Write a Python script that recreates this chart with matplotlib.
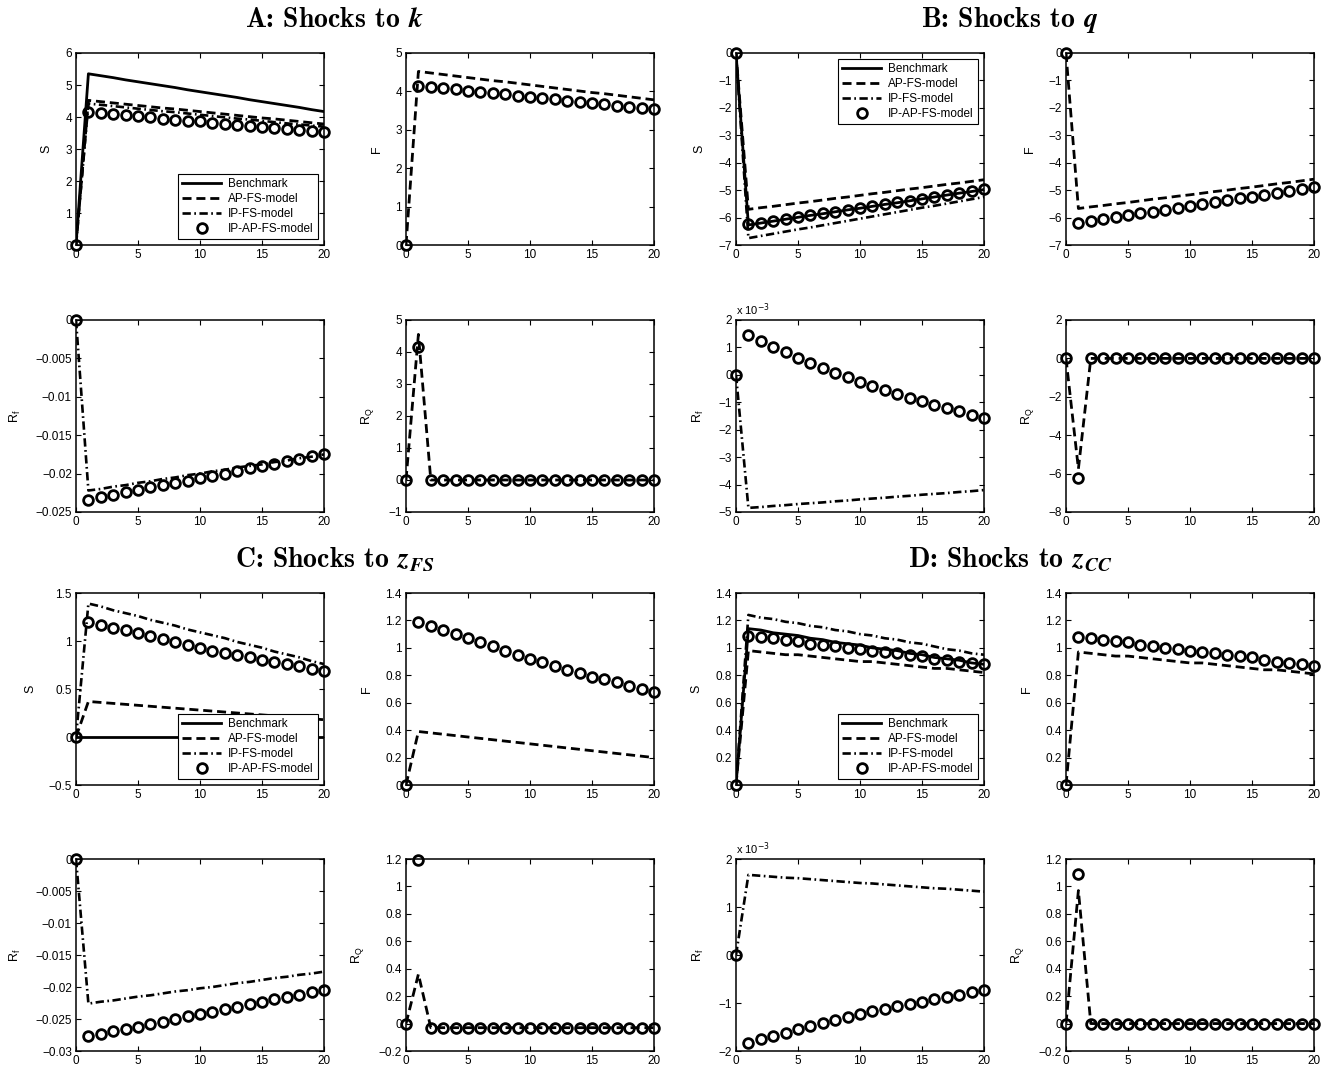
import numpy as np
import matplotlib.pyplot as plt
from matplotlib.ticker import FuncFormatter

plt.rcParams['font.family'] = ['Liberation Sans', 'DejaVu Sans']
plt.rcParams['lines.scale_dashes'] = False

t = list(range(21))

# ---------------- A: shocks to k ----------------
a_S_bench = [0, 5.35, 5.29, 5.23, 5.16, 5.10, 5.04, 4.98, 4.92, 4.85, 4.79, 4.73, 4.67, 4.61, 4.54, 4.48, 4.42, 4.36, 4.30, 4.23, 4.17]
a_S_ap = [0, 4.52, 4.48, 4.44, 4.40, 4.36, 4.32, 4.28, 4.25, 4.21, 4.17, 4.13, 4.09, 4.05, 4.01, 3.97, 3.94, 3.90, 3.86, 3.82, 3.78]
a_S_ip = [0, 4.42, 4.38, 4.34, 4.30, 4.26, 4.22, 4.18, 4.15, 4.11, 4.07, 4.03, 3.99, 3.95, 3.92, 3.88, 3.84, 3.80, 3.77, 3.73, 3.70]
a_S_ipap = [0, 4.15, 4.12, 4.08, 4.05, 4.02, 3.99, 3.95, 3.92, 3.89, 3.86, 3.82, 3.79, 3.76, 3.72, 3.69, 3.66, 3.63, 3.59, 3.56, 3.53]
a_F_ap = [0, 4.52, 4.48, 4.44, 4.40, 4.36, 4.32, 4.28, 4.25, 4.21, 4.17, 4.13, 4.09, 4.05, 4.01, 3.97, 3.94, 3.90, 3.86, 3.82, 3.78]
a_F_ipap = [0, 4.15, 4.12, 4.08, 4.05, 4.02, 3.99, 3.95, 3.92, 3.89, 3.86, 3.82, 3.79, 3.76, 3.72, 3.69, 3.66, 3.63, 3.59, 3.56, 3.53]
a_Rf_ip = [0, -0.0222, -0.0220, -0.0217, -0.0215, -0.0212, -0.0210, -0.0207, -0.0205, -0.0202, -0.0200, -0.0197, -0.0195, -0.0192, -0.0190, -0.0188, -0.0185, -0.0183, -0.0180, -0.0178, -0.0175]
a_Rf_ipap = [0, -0.0234, -0.0231, -0.0228, -0.0224, -0.0221, -0.0218, -0.0215, -0.0212, -0.0209, -0.0206, -0.0203, -0.0200, -0.0196, -0.0193, -0.0190, -0.0187, -0.0184, -0.0181, -0.0177, -0.0174]
a_RQ_ap = [0, 4.55, 0, 0, 0, 0, 0, 0, 0, 0, 0, 0, 0, 0, 0, 0, 0, 0, 0, 0, 0]
a_RQ_ipap = [0, 4.15, 0, 0, 0, 0, 0, 0, 0, 0, 0, 0, 0, 0, 0, 0, 0, 0, 0, 0, 0]

# ---------------- B: shocks to q ----------------
b_S_bench = [0, -6.27, -6.20, -6.13, -6.06, -5.99, -5.92, -5.86, -5.79, -5.72, -5.66, -5.59, -5.52, -5.46, -5.39, -5.32, -5.25, -5.18, -5.11, -5.05, -4.98]
b_S_ap = [0, -5.70, -5.64, -5.59, -5.53, -5.47, -5.42, -5.36, -5.30, -5.25, -5.19, -5.13, -5.08, -5.02, -4.96, -4.91, -4.85, -4.79, -4.74, -4.68, -4.62]
b_S_ip = [0, -6.75, -6.67, -6.59, -6.51, -6.43, -6.36, -6.28, -6.20, -6.12, -6.04, -5.96, -5.88, -5.80, -5.72, -5.64, -5.57, -5.49, -5.41, -5.33, -5.25]
b_S_ipap = [0, -6.25, -6.18, -6.12, -6.05, -5.98, -5.91, -5.85, -5.78, -5.72, -5.65, -5.58, -5.52, -5.45, -5.38, -5.31, -5.24, -5.17, -5.10, -5.04, -4.97]
b_F_ap = [0, -5.67, -5.61, -5.56, -5.50, -5.45, -5.39, -5.33, -5.28, -5.22, -5.17, -5.11, -5.05, -5.00, -4.94, -4.89, -4.83, -4.77, -4.72, -4.66, -4.60]
b_F_ipap = [0, -6.18, -6.11, -6.05, -5.98, -5.91, -5.84, -5.78, -5.71, -5.64, -5.57, -5.51, -5.44, -5.37, -5.30, -5.24, -5.17, -5.10, -5.03, -4.97, -4.90]
# R_f values for B and D are in units of 1e-3
b_Rf_ip = [0, -4.85, -4.82, -4.78, -4.75, -4.71, -4.68, -4.65, -4.61, -4.58, -4.54, -4.51, -4.48, -4.44, -4.41, -4.37, -4.34, -4.31, -4.27, -4.24, -4.20]
b_Rf_ipap = [0, 1.45, 1.23, 1.03, 0.82, 0.62, 0.43, 0.25, 0.07, -0.09, -0.25, -0.40, -0.55, -0.70, -0.83, -0.96, -1.10, -1.22, -1.33, -1.45, -1.57]
b_RQ_ap = [0, -5.75, 0, 0, 0, 0, 0, 0, 0, 0, 0, 0, 0, 0, 0, 0, 0, 0, 0, 0, 0]
b_RQ_ipap = [0, -6.25, 0, 0, 0, 0, 0, 0, 0, 0, 0, 0, 0, 0, 0, 0, 0, 0, 0, 0, 0]

# ---------------- C: shocks to z_FS ----------------
c_S_bench = [0] * 21
c_S_ap = [0, 0.37, 0.36, 0.35, 0.34, 0.33, 0.32, 0.31, 0.30, 0.29, 0.28, 0.27, 0.26, 0.25, 0.24, 0.23, 0.22, 0.21, 0.20, 0.19, 0.18]
c_S_ip = [0, 1.39, 1.36, 1.32, 1.29, 1.26, 1.22, 1.19, 1.16, 1.12, 1.09, 1.06, 1.03, 0.99, 0.96, 0.93, 0.89, 0.86, 0.83, 0.79, 0.76]
c_S_ipap = [0, 1.20, 1.17, 1.14, 1.11, 1.08, 1.05, 1.02, 0.99, 0.96, 0.93, 0.90, 0.88, 0.85, 0.83, 0.80, 0.78, 0.76, 0.74, 0.71, 0.69]
c_F_ap = [0, 0.39, 0.38, 0.37, 0.36, 0.35, 0.34, 0.33, 0.32, 0.31, 0.30, 0.29, 0.28, 0.27, 0.26, 0.25, 0.24, 0.23, 0.22, 0.21, 0.20]
c_F_ipap = [0, 1.19, 1.16, 1.13, 1.10, 1.07, 1.04, 1.01, 0.98, 0.95, 0.92, 0.90, 0.87, 0.84, 0.82, 0.79, 0.77, 0.75, 0.72, 0.70, 0.68]
c_Rf_ip = [0, -0.0226, -0.0223, -0.0221, -0.0218, -0.0215, -0.0213, -0.0210, -0.0207, -0.0205, -0.0202, -0.0200, -0.0197, -0.0194, -0.0192, -0.0189, -0.0186, -0.0184, -0.0181, -0.0179, -0.0176]
c_Rf_ipap = [0, -0.0277, -0.0273, -0.0269, -0.0265, -0.0262, -0.0258, -0.0254, -0.0250, -0.0246, -0.0242, -0.0239, -0.0235, -0.0231, -0.0227, -0.0223, -0.0219, -0.0216, -0.0212, -0.0208, -0.0204]
c_RQ_ap = [0, 0.36, -0.03, -0.03, -0.03, -0.03, -0.03, -0.03, -0.03, -0.03, -0.03, -0.03, -0.03, -0.03, -0.03, -0.03, -0.03, -0.03, -0.03, -0.03, -0.03]
c_RQ_ipap = [0, 1.19, -0.03, -0.03, -0.03, -0.03, -0.03, -0.03, -0.03, -0.03, -0.03, -0.03, -0.03, -0.03, -0.03, -0.03, -0.03, -0.03, -0.03, -0.03, -0.03]

# ---------------- D: shocks to z_CC ----------------
d_S_bench = [0, 1.14, 1.13, 1.11, 1.10, 1.09, 1.07, 1.06, 1.04, 1.03, 1.02, 1.00, 0.99, 0.98, 0.96, 0.95, 0.93, 0.92, 0.91, 0.89, 0.88]
d_S_ap = [0, 0.98, 0.97, 0.96, 0.95, 0.95, 0.94, 0.93, 0.92, 0.91, 0.90, 0.90, 0.89, 0.88, 0.87, 0.86, 0.85, 0.85, 0.84, 0.83, 0.82]
d_S_ip = [0, 1.24, 1.22, 1.21, 1.19, 1.18, 1.16, 1.15, 1.13, 1.12, 1.10, 1.09, 1.07, 1.06, 1.04, 1.03, 1.01, 0.99, 0.98, 0.96, 0.95]
d_S_ipap = [0, 1.09, 1.08, 1.07, 1.06, 1.05, 1.03, 1.02, 1.01, 1.00, 0.99, 0.98, 0.97, 0.96, 0.95, 0.94, 0.92, 0.91, 0.90, 0.89, 0.88]
d_F_ap = [0, 0.97, 0.96, 0.95, 0.94, 0.94, 0.93, 0.92, 0.91, 0.90, 0.89, 0.89, 0.88, 0.87, 0.86, 0.85, 0.84, 0.84, 0.83, 0.82, 0.81]
d_F_ipap = [0, 1.08, 1.07, 1.06, 1.05, 1.04, 1.02, 1.01, 1.00, 0.99, 0.98, 0.97, 0.96, 0.95, 0.94, 0.93, 0.91, 0.90, 0.89, 0.88, 0.87]
d_Rf_ip = [0, 1.67, 1.65, 1.63, 1.61, 1.60, 1.58, 1.56, 1.54, 1.52, 1.50, 1.49, 1.47, 1.45, 1.43, 1.41, 1.39, 1.38, 1.36, 1.34, 1.32]
d_Rf_ipap = [0, -1.83, -1.76, -1.69, -1.62, -1.55, -1.48, -1.42, -1.35, -1.29, -1.22, -1.17, -1.12, -1.07, -1.02, -0.97, -0.92, -0.87, -0.83, -0.78, -0.73]
d_RQ_ap = [0, 0.97, 0, 0, 0, 0, 0, 0, 0, 0, 0, 0, 0, 0, 0, 0, 0, 0, 0, 0, 0]
d_RQ_ipap = [0, 1.09, 0, 0, 0, 0, 0, 0, 0, 0, 0, 0, 0, 0, 0, 0, 0, 0, 0, 0, 0]

labels = ['Benchmark', 'AP-FS-model', 'IP-FS-model', 'IP-AP-FS-model']

W, H = 1332, 1074
fig = plt.figure(figsize=(W / 100, H / 100), dpi=100)

col_left = [76, 406, 736, 1066]
row_top = [53, 320, 593, 859]
ax_w, ax_h = 248, 192


def make_ax(row, col):
    return fig.add_axes([col_left[col] / W, 1 - (row_top[row] + ax_h) / H, ax_w / W, ax_h / H])


def tick_fmt(scale):
    def f(v, pos):
        v = round(v * scale, 6)
        if abs(v) < 1e-9:
            return '0'
        return ('%g' % v).replace('-', '\u2212')
    return FuncFormatter(f)


def style(ax, ylabel, ylim, ystep, scale=1):
    ax.set_xlim(0, 20)
    ax.set_xticks([0, 5, 10, 15, 20])
    ax.set_ylim(ylim)
    ax.set_yticks(np.arange(ylim[0], ylim[1] + ystep / 2, ystep))
    ax.yaxis.set_major_formatter(tick_fmt(scale))
    ax.tick_params(direction='in', length=3.5, width=0.8, top=True, right=True,
                   labelsize=8.5, pad=3)
    for sp in ax.spines.values():
        sp.set_linewidth(1.1)
    ax.set_ylabel(ylabel, fontsize=9, labelpad=9)
    if scale != 1:
        ax.text(0, 1.012, r'x 10$^{-3}$', transform=ax.transAxes, fontsize=8, va='bottom')


def draw(ax, bench=None, ap=None, ip=None, ipap=None, scale=1):
    if bench is not None:
        ax.plot(t, np.array(bench) * scale, color='k', lw=2.0, label=labels[0])
    if ap is not None:
        ax.plot(t, np.array(ap) * scale, color='k', lw=2.0, dashes=(6.5, 3.5), label=labels[1])
    if ip is not None:
        ax.plot(t, np.array(ip) * scale, color='k', lw=1.9, dashes=(6, 2.5, 1.2, 2.5), label=labels[2])
    if ipap is not None:
        ax.plot(t, np.array(ipap) * scale, 'o', ms=7, mfc='none', mec='k', mew=2,
                clip_on=False, label=labels[3])


def legend(ax, loc):
    leg = ax.legend(loc=loc, fontsize=8.5, handlelength=3.3, numpoints=1, fancybox=False,
                    edgecolor='k', framealpha=1, borderpad=0.35, labelspacing=0.25,
                    handletextpad=0.6, borderaxespad=0.5)
    leg.get_frame().set_linewidth(0.8)


panels = [
    # (row offset, col offset, data, ylims/steps, legend loc, Rf scale)
    (0, 0, dict(S=(a_S_bench, a_S_ap, a_S_ip, a_S_ipap), F=(a_F_ap, a_F_ipap),
                Rf=(a_Rf_ip, a_Rf_ipap), RQ=(a_RQ_ap, a_RQ_ipap)),
     dict(S=((0, 6), 1), F=((0, 5), 1), Rf=((-0.025, 0), 0.005), RQ=((-1, 5), 1)), 'lower right', 1),
    (0, 2, dict(S=(b_S_bench, b_S_ap, b_S_ip, b_S_ipap), F=(b_F_ap, b_F_ipap),
                Rf=(b_Rf_ip, b_Rf_ipap), RQ=(b_RQ_ap, b_RQ_ipap)),
     dict(S=((-7, 0), 1), F=((-7, 0), 1), Rf=((-5e-3, 2e-3), 1e-3), RQ=((-8, 2), 2)), 'upper right', 1e-3),
    (2, 0, dict(S=(c_S_bench, c_S_ap, c_S_ip, c_S_ipap), F=(c_F_ap, c_F_ipap),
                Rf=(c_Rf_ip, c_Rf_ipap), RQ=(c_RQ_ap, c_RQ_ipap)),
     dict(S=((-0.5, 1.5), 0.5), F=((0, 1.4), 0.2), Rf=((-0.03, 0), 0.005), RQ=((-0.2, 1.2), 0.2)), 'lower right', 1),
    (2, 2, dict(S=(d_S_bench, d_S_ap, d_S_ip, d_S_ipap), F=(d_F_ap, d_F_ipap),
                Rf=(d_Rf_ip, d_Rf_ipap), RQ=(d_RQ_ap, d_RQ_ipap)),
     dict(S=((0, 1.4), 0.2), F=((0, 1.4), 0.2), Rf=((-2e-3, 2e-3), 1e-3), RQ=((-0.2, 1.2), 0.2)), 'lower right', 1e-3),
]

for r0, c0, d, lims, loc, sc in panels:
    ax = make_ax(r0, c0)
    draw(ax, *d['S'])
    style(ax, 'S', *lims['S'])
    legend(ax, loc)

    ax = make_ax(r0, c0 + 1)
    draw(ax, ap=d['F'][0], ipap=d['F'][1])
    style(ax, 'F', *lims['F'])

    ax = make_ax(r0 + 1, c0)
    draw(ax, ip=d['Rf'][0], ipap=d['Rf'][1], scale=sc)
    style(ax, r'R$_\mathregular{f}$', *lims['Rf'], scale=1 / sc)

    ax = make_ax(r0 + 1, c0 + 1)
    draw(ax, ap=d['RQ'][0], ipap=d['RQ'][1])
    style(ax, r'R$_\mathregular{Q}$', *lims['RQ'])

# panel titles (Computer Modern bold, variable in bold italic)
titles = [
    (335, 27, r'A: Shocks to $\mathbfit{k}$'),
    (1010, 27, r'B: Shocks to $\mathbfit{q}$'),
    (335, 567, r'C: Shocks to $\mathbfit{z}_{\mathbfit{FS}}$'),
    (1010, 567, r'D: Shocks to $\mathbfit{z}_{\mathbfit{CC}}$'),
]
for x, y, s in titles:
    fig.text(x / W, 1 - y / H, s, ha='center', va='baseline', fontsize=20,
             family='cmb10', math_fontfamily='cm')

plt.savefig('out.png', dpi=100)
